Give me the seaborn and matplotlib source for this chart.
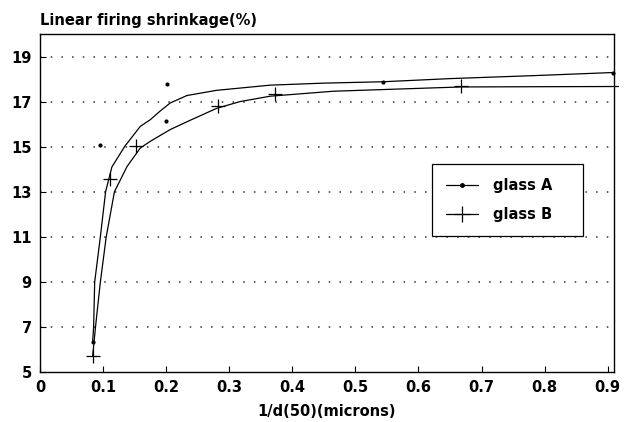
import matplotlib
matplotlib.use("Agg")
import matplotlib.pyplot as plt
from matplotlib.lines import Line2D
import seaborn as sns
import pandas as pd

# measured data points
glass_a_x = [0.0835, 0.0946, 0.199, 0.202, 0.543, 0.908]
glass_a_y = [6.35, 15.09, 16.12, 17.80, 17.87, 18.29]
glass_b_x = [0.0835, 0.1115, 0.1527, 0.282, 0.3726, 0.668]
glass_b_y = [5.71, 13.58, 15.04, 16.80, 17.34, 17.71]

# fitted curves
curve_a_x = [0.0835, 0.085, 0.0867, 0.0957, 0.104, 0.114, 0.134, 0.159, 0.175, 0.19,
             0.2065, 0.233, 0.28, 0.365, 0.45, 0.543, 0.65, 0.78, 0.908]
curve_a_y = [6.35, 7.0, 9.0, 11.0, 13.0, 14.1, 15.0, 15.9, 16.2, 16.57,
             16.94, 17.27, 17.5, 17.73, 17.82, 17.88, 18.02, 18.15, 18.29]
curve_b_x = [0.0835, 0.088, 0.0957, 0.105, 0.118, 0.138, 0.159, 0.175, 0.2065, 0.238,
             0.28, 0.317, 0.365, 0.465, 0.56, 0.668, 0.78, 0.917]
curve_b_y = [5.71, 7.0, 9.0, 11.0, 13.0, 14.12, 14.94, 15.24, 15.76, 16.17,
             16.7, 17.0, 17.24, 17.46, 17.55, 17.65, 17.66, 17.67]

x_ticks = [0, 0.1, 0.2, 0.3, 0.4, 0.5, 0.6, 0.7, 0.8, 0.9]
x_tick_labels = ["0", "0.1", "0.2", "0.3", "0.4", "0.5", "0.6", "0.7", "0.8", "0.9"]
y_ticks = [5, 7, 9, 11, 13, 15, 17, 19]
y_tick_labels = ["5", "7", "9", "11", "13", "15", "17", "19"]

sns.set_theme(style="white")
plt.rcParams['font.family'] = ['DejaVu Sans']
plt.rcParams['font.weight'] = 'bold'
plt.rcParams['text.color'] = 'black'
plt.rcParams['axes.labelcolor'] = 'black'
plt.rcParams['xtick.color'] = 'black'
plt.rcParams['ytick.color'] = 'black'

W, H = 630, 422
FS = 10.5
fig = plt.figure(figsize=(W / 100, H / 100), dpi=100)
ax = fig.add_axes([40 / W, 1 - 372 / H, (614 - 40) / W, (372 - 34) / H])

ca = pd.DataFrame({"x": curve_a_x, "y": curve_a_y})
cb = pd.DataFrame({"x": curve_b_x, "y": curve_b_y})
pa = pd.DataFrame({"x": glass_a_x, "y": glass_a_y})
pb = pd.DataFrame({"x": glass_b_x, "y": glass_b_y})

sns.lineplot(data=ca, x="x", y="y", sort=False, color="black", lw=0.9, ax=ax)
sns.lineplot(data=cb, x="x", y="y", sort=False, color="black", lw=0.9, ax=ax)
ax.lines[-1].set_clip_on(False)
sns.scatterplot(data=pa, x="x", y="y", marker="o", s=9, color="black",
                edgecolor="black", linewidth=0, ax=ax, clip_on=False, zorder=5)
sns.scatterplot(data=pb, x="x", y="y", marker="+", s=110, color="black",
                linewidth=0.9, ax=ax, clip_on=False, zorder=5)

ax.set_xlim(0, 0.91)
ax.set_ylim(5, 20)
ax.set_xticks(x_ticks)
ax.set_xticklabels(x_tick_labels)
ax.set_yticks(y_ticks)
ax.set_yticklabels(y_tick_labels)
ax.tick_params(axis="both", direction="in", length=4, width=0.8, colors="black",
               labelcolor="black", labelsize=FS, pad=6, bottom=True, left=True)
for s in ax.spines.values():
    s.set_color("black")
    s.set_linewidth(1.0)

for yv in y_ticks[1:]:
    ax.axhline(yv, color="#333333", lw=1.1, ls=(0, (1, 6)), zorder=0)

ax.set_xlabel("1/d(50)(microns)", fontsize=FS, fontweight="bold", labelpad=6,
              color="black")
ax.set_ylabel("")
fig.text(40 / W, 1 - 20 / H, "Linear firing shrinkage(%)", fontsize=FS,
         fontweight="bold", ha="left", va="center", color="black")

handles = [
    Line2D([], [], color="black", lw=0.9, marker="o", markersize=2.5),
    Line2D([], [], color="black", lw=0.9, marker="+", markersize=11, markeredgewidth=0.9),
]
leg = ax.legend(handles, ["glass A", "glass B"], loc="upper left",
                bbox_to_anchor=(432 / W, 1 - 240 / H, (583 - 432) / W, (240 - 164) / H),
                bbox_transform=fig.transFigure, mode="expand",
                frameon=True, fancybox=False, framealpha=1, edgecolor="black",
                fontsize=FS, handlelength=2.2, borderpad=0.95, labelspacing=0.95,
                handletextpad=1.0, borderaxespad=0, labelcolor="black")
leg.get_frame().set_linewidth(0.9)

fig.savefig("out.png", dpi=100)
